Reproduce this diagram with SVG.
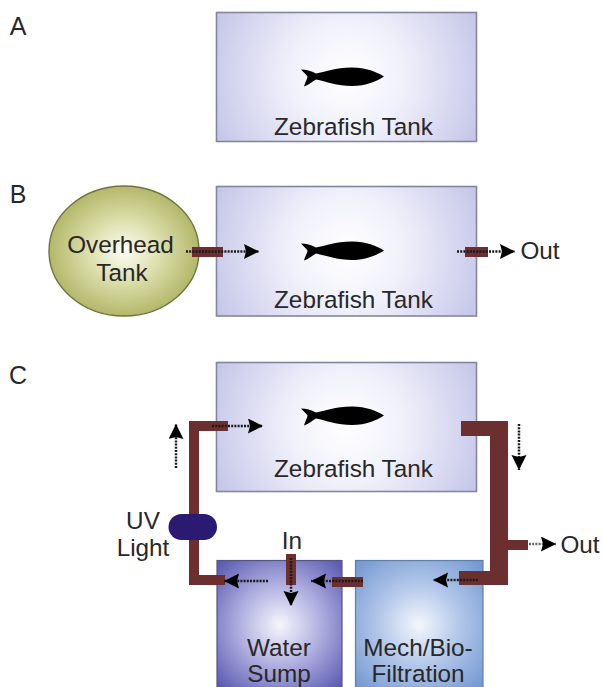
<svg xmlns="http://www.w3.org/2000/svg" width="603" height="687" viewBox="0 0 603 687">
<style>
text{font-family:"Liberation Sans",Arial,sans-serif;font-size:24.3px;fill:#2a2728;text-anchor:middle}
.tank{fill:url(#gTank);stroke:#85859f;stroke-width:1.6}
.pipe{fill:#6b2f30}
.flow{fill:none;stroke:#1a1a1a;stroke-width:2.5;stroke-dasharray:2 1.2;marker-end:url(#head)}
</style>
<defs>
<radialGradient id="gTank" cx="0.5" cy="0.5" r="0.56" gradientTransform="translate(0.5 0.5) scale(1 2) translate(-0.5 -0.5)"><stop offset="0" stop-color="#fff"/><stop offset="0.4" stop-color="#f0f0fb"/><stop offset="1" stop-color="#c4c5e8"/></radialGradient>
<radialGradient id="gOver" cx="0.5" cy="0.5" r="0.5"><stop offset="0" stop-color="#fdfdf6"/><stop offset="0.45" stop-color="#dfe1b0"/><stop offset="1" stop-color="#b3b86a"/></radialGradient>
<radialGradient id="gSump" gradientUnits="userSpaceOnUse" cx="280" cy="625" r="85"><stop offset="0" stop-color="#f6f6fc"/><stop offset="0.45" stop-color="#b4b4e2"/><stop offset="1" stop-color="#5c5cb4"/></radialGradient>
<radialGradient id="gMech" gradientUnits="userSpaceOnUse" cx="419" cy="625" r="88"><stop offset="0" stop-color="#f4f7fd"/><stop offset="0.45" stop-color="#b4c8ea"/><stop offset="1" stop-color="#7397d1"/></radialGradient>
<marker id="head" markerUnits="userSpaceOnUse" markerWidth="17" markerHeight="16" refX="15" refY="7.500" orient="auto"><path d="M0 0L15 7.500L0 15L2 7.500Z" fill="#000"/></marker>
<path id="fish" d="M301 69.500C306 69.500 311 71 316 73.500C325 72 335 67.500 352 67.500C366 67.500 377 72 384 76.500C377 81 366 86 352 86C337 86 326 81.500 316 79.500C312 81.500 309 85 304 86.500C305 82 307.500 79 307.500 76.500C306 74 303 72 301 69.500Z" fill="#000"/>
</defs>
<text x="18" y="35" style="font-size:25px">A</text>
<text x="18" y="203" style="font-size:25px">B</text>
<text x="18" y="384" style="font-size:25px">C</text>
<g id="tank-a"><rect class="tank" x="216.500" y="12.500" width="260" height="129"/><use href="#fish"/><text x="353.500" y="135">Zebrafish Tank</text></g>
<g id="tank-b"><rect class="tank" x="216.500" y="186.500" width="260" height="129.500"/><use href="#fish" y="174"/><text x="353.500" y="307.500">Zebrafish Tank</text></g>
<g id="overhead"><ellipse cx="124" cy="251" rx="75" ry="65" fill="url(#gOver)" stroke="#6f7440" stroke-width="1.4"/><text x="120.500" y="253">Overhead</text><text x="122" y="280.500">Tank</text></g>
<g id="tank-c"><rect class="tank" x="216.500" y="362.500" width="260" height="129"/><use href="#fish" y="339"/><text x="353.500" y="477">Zebrafish Tank</text></g>
<g id="sump"><rect x="217" y="560.500" width="125" height="127" fill="url(#gSump)" stroke="#55557f" stroke-width="1.2"/><text x="279" y="655.500">Water</text><text x="279" y="682">Sump</text></g>
<g id="mech"><rect x="355.500" y="560.500" width="127.500" height="127" fill="url(#gMech)" stroke="#5f7fa6" stroke-width="1.2"/><text x="418" y="655.500">Mech/Bio-</text><text x="418" y="682">Filtration</text></g>
<g id="connectors">
<rect class="pipe" x="192" y="247" width="31" height="10"/>
<rect class="pipe" x="465" y="247" width="23" height="10"/>
<path class="pipe" d="M228 421H189V585H225V575H199V431H228Z"/>
<path class="pipe" d="M461 421H508V585H459V571H490V436H461Z"/>
<rect class="pipe" x="508" y="540" width="20" height="10"/>
<rect class="pipe" x="286" y="554" width="10" height="31"/>
<rect class="pipe" x="332" y="577" width="31" height="10"/>
<path class="flow" d="M186 251.500H259"/>
<path class="flow" d="M457 251.500H515"/>
<path class="flow" d="M212 426H263"/>
<path class="flow" d="M176 468V424"/>
<path class="flow" d="M519 424V470"/>
<path class="flow" d="M529 544H556" style="stroke:#666"/>
<path class="flow" d="M478 580H433"/>
<path class="flow" d="M268 581H224"/>
<path class="flow" d="M363 581H311"/>
<path class="flow" d="M291 558V606"/>
</g>
<g id="uv"><rect x="168.500" y="514" width="48.500" height="26" rx="13" fill="#2b1a72"/><text x="143" y="529">UV</text><text x="143" y="556">Light</text></g>
<g id="labels"><text x="540" y="259">Out</text><text x="580" y="553">Out</text><text x="292" y="549">In</text></g>
</svg>
